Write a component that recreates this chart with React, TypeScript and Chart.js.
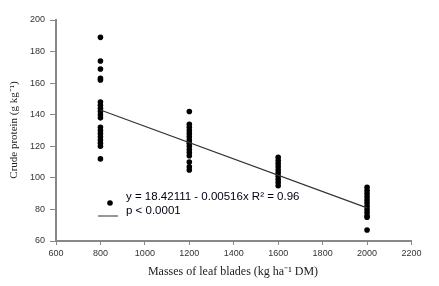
import React, { useEffect, useRef } from "react";
import { Chart, registerables } from "chart.js";

Chart.register(...registerables);

// Leaf-blade mass levels (kg ha-1 DM)
const massLevels = [800, 1200, 1600, 2000];
// Crude protein (g kg-1) observed at each level
const cp800 = [189, 174, 169, 163, 162, 148, 146, 144, 142, 140, 138, 132, 130, 128, 126, 124, 122, 120, 112];
const cp1200 = [142, 134, 132, 130, 128, 126, 124, 122, 120, 118, 116, 114, 110, 107, 105];
const cp1600 = [113, 111, 109, 107, 105, 103, 101, 99, 97, 95];
const cp2000 = [94, 92, 90, 88, 86, 84, 82, 80, 78, 76, 75, 67];
// Regression line end points
const trendX = [800, 2000];
const trendY = [143, 81];

const xTicks = [600, 800, 1000, 1200, 1400, 1600, 1800, 2000, 2200];
const yTicks = [60, 80, 100, 120, 140, 160, 180, 200];

const legendLine1 = "y = 18.42111 - 0.00516x R\u00B2 = 0.96";
const legendLine2 = "p < 0.0001";
const xTitle = "Masses of leaf blades (kg ha\u207B\u00B9 DM)";
const yTitle = "Crude protein (g kg\u207B\u00B9)";

export default function App() {
  const ref = useRef<HTMLCanvasElement>(null);
  useEffect(() => {
    const groups = [cp800, cp1200, cp1600, cp2000];
    const points: { x: number; y: number }[] = [];
    groups.forEach((g, i) => g.forEach((v) => points.push({ x: massLevels[i], y: v })));
    const trend = trendX.map((x, i) => ({ x, y: trendY[i] }));

    const overlay = {
      id: "overlay",
      afterDraw(chart: any) {
        const ctx = chart.ctx as CanvasRenderingContext2D;
        ctx.save();
        // axis titles
        ctx.fillStyle = "#222";
        ctx.font = "12px 'Liberation Serif'";
        ctx.textAlign = "center";
        ctx.textBaseline = "middle";
        ctx.fillText(xTitle, 233, 272);
        ctx.save();
        ctx.translate(14, 130);
        ctx.rotate(-Math.PI / 2);
        ctx.font = "11px 'Liberation Serif'";
        ctx.fillText(yTitle, 0, 0);
        ctx.restore();
        // legend
        ctx.fillStyle = "#000";
        ctx.beginPath();
        ctx.arc(110, 203, 2.8, 0, Math.PI * 2);
        ctx.fill();
        ctx.strokeStyle = "#999";
        ctx.lineWidth = 2;
        ctx.beginPath();
        ctx.moveTo(98, 216);
        ctx.lineTo(118, 216);
        ctx.stroke();
        ctx.fillStyle = "#000010";
        ctx.font = "11.5px 'Liberation Sans'";
        ctx.textAlign = "left";
        ctx.fillText(legendLine1, 126, 197);
        ctx.fillText(legendLine2, 126, 211);
        ctx.restore();
      },
    };

    const tickFont = { family: "'Liberation Sans'", size: 9 };
    const chart = new Chart(ref.current!, {
      type: "scatter",
      data: {
        datasets: [
          {
            type: "line",
            data: trend,
            borderColor: "#333",
            borderWidth: 1.2,
            pointRadius: 0,
            fill: false,
          } as any,
          {
            data: points,
            backgroundColor: "#000",
            borderWidth: 0,
            pointRadius: 2.8,
          },
        ],
      },
      options: {
        animation: false,
        responsive: false,
        layout: { padding: { top: 20, right: 27.5, left: 0, bottom: 0 } },
        plugins: { legend: { display: false }, tooltip: { enabled: false } },
        scales: {
          x: {
            type: "linear",
            min: 600,
            max: 2200,
            afterBuildTicks: (axis: any) => {
              axis.ticks = xTicks.map((v) => ({ value: v }));
            },
            ticks: { font: tickFont, color: "#333", padding: 3, callback: (v: any) => String(v) },
            grid: { drawOnChartArea: false, tickLength: 4, color: "#888" },
            border: { color: "#888", width: 2 },
            afterFit: (axis: any) => {
              axis.height = 45;
            },
          },
          y: {
            type: "linear",
            min: 60,
            max: 200,
            afterBuildTicks: (axis: any) => {
              axis.ticks = yTicks.map((v) => ({ value: v }));
            },
            ticks: { font: tickFont, color: "#333", padding: 5, callback: (v: any) => String(v) },
            grid: { drawOnChartArea: false, tickLength: 6, color: "#888" },
            border: { color: "#888", width: 2 },
            afterFit: (axis: any) => {
              axis.width = 56;
            },
          },
        },
      },
      plugins: [overlay],
    });
    return () => chart.destroy();
  }, []);

  return (
    <div style={{ position: "absolute", left: 0, top: 0, width: 439, height: 286, background: "#fff" }}>
      <canvas ref={ref} width={439} height={286} />
    </div>
  );
}
